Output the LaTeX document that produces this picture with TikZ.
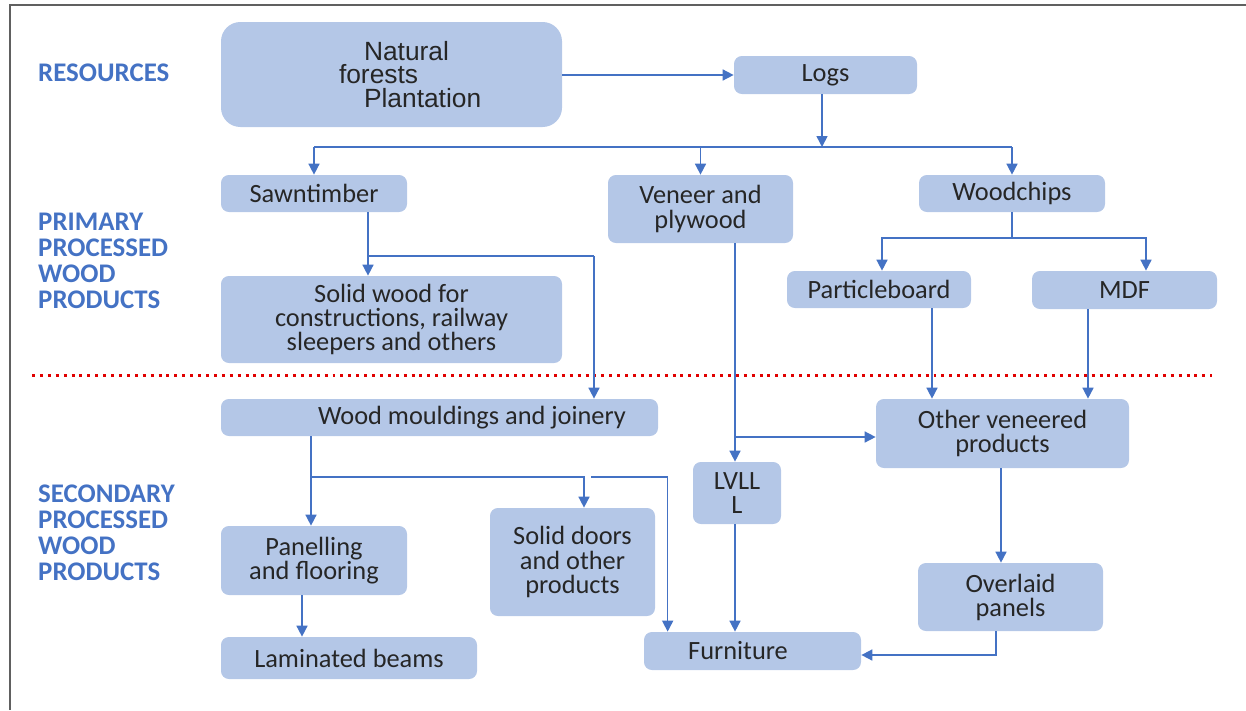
\documentclass[tikz,border=0pt]{standalone}
\usepackage{fontspec}
\setmainfont{Carlito}
\newfontfamily\arialfont{Liberation Sans}
\usepackage{tikz}
\usetikzlibrary{arrows.meta}

\definecolor{boxblue}{HTML}{B4C7E7}
\definecolor{linkblue}{HTML}{4472C4}
\definecolor{tierblue}{HTML}{4472C4}
\definecolor{tierred}{HTML}{E00000}

\begin{document}
\begin{tikzpicture}[
  box/.style={fill=boxblue, rectangle, rounded corners=4.5pt, inner sep=2pt,
    align=center, text=black!85, font=\fontsize{15}{13.7}\selectfont},
  tier/.style={anchor=west, align=left, text=tierblue,
    font=\fontsize{15.3}{14.7}\selectfont\bfseries},
  ar/.style={-{Triangle[length=0.22cm,width=0.22cm]}, draw=linkblue, line width=0.9pt},
  ln/.style={draw=linkblue, line width=0.9pt},
]
\useasboundingbox (0,0) rectangle (24.92,-14.2);

% frame
\draw[gray!75!black, line width=1.4pt] (0.2,-14.2) -- (0.2,-0.1) -- (24.92,-0.1);

%── Tier labels ───────────────────────────────────────────────────────────────

\node[tier] (tres)  at (0.64,-1.46)  {RESOURCES};
\node[tier] (tprim) at (0.64,-5.22)  {PRIMARY\\PROCESSED\\WOOD\\PRODUCTS};
\node[tier] (tsec)  at (0.64,-10.66) {SECONDARY\\PROCESSED\\WOOD\\PRODUCTS};

%── Resources ─────────────────────────────────────────────────────────────────

\node[box, rounded corners=11pt, minimum width=6.82cm, minimum height=2.1cm,
  text width=6.82cm, inner xsep=0pt, align=left, font=\arialfont\fontsize{15}{13.4}\selectfont]
  (nat) at (7.83,-1.49)
  {\hspace*{2.86cm}Natural\\\hspace*{2.36cm}forests\\\hspace*{2.86cm}Plantation};
\node[box, minimum width=3.66cm, minimum height=0.76cm] (logs) at (16.51,-1.5) {Logs};

\draw[ar] (logs.west -| nat.east) -- (logs.west);

%── Primary processed wood products ───────────────────────────────────────────

\node[box, minimum width=3.72cm, minimum height=0.74cm] (saw)   at (6.28,-3.87)  {Sawntimber};
\node[box, minimum width=3.70cm, minimum height=1.36cm] (ven)   at (14.01,-4.18) {Veneer and\\plywood};
\node[box, minimum width=3.72cm, minimum height=0.74cm] (chips) at (20.24,-3.87) {Woodchips};
\node[box, minimum width=6.82cm, minimum height=1.74cm] (solid) at (7.83,-6.39)
  {Solid wood for\\constructions, railway\\sleepers and others};
\node[box, minimum width=3.68cm, minimum height=0.74cm] (pboard) at (17.58,-5.79) {Particleboard};
\node[box, minimum width=3.70cm, minimum height=0.76cm] (mdf)    at (22.49,-5.80) {MDF};

% Logs -> three primary streams
\coordinate (logsplit) at (16.44,-2.94);
\draw[ar] (logs.south -| logsplit) -- (logsplit);
\draw[ln] (saw.north |- logsplit) -- (chips.north |- logsplit);
\draw[ar] (saw.north |- logsplit) -- (saw.north);
\draw[ar] (ven.north |- logsplit) -- (ven.north);
\draw[ar] (chips.north |- logsplit) -- (chips.north);

% Sawntimber -> solid wood, mouldings
\coordinate (sawfork) at (7.36,-5.12);
\draw[ar] (saw.south -| sawfork) -- (solid.north -| sawfork);
\draw[ln] (sawfork) -- (11.88,-5.12);

% Woodchips -> boards
\coordinate (chipfork) at (20.24,-4.76);
\draw[ln] (chips.south) -- (chipfork);
\draw[ar] (chipfork) -| ([xshift=0.06cm]pboard.north);
\draw[ar] (chipfork) -| ([xshift=0.43cm]mdf.north);

% tier boundary
\draw[tierred, line width=1.7pt, dash pattern=on 1.7pt off 2.8pt] (0.64,-7.5) -- (24.24,-7.5);

%── Secondary processed wood products ─────────────────────────────────────────

\node[box, minimum width=8.74cm, minimum height=0.74cm] (mould) at (8.79,-8.35)
  {\hspace*{1.3cm}Wood mouldings and joinery};
\node[box, minimum width=5.06cm, minimum height=1.38cm] (other) at (20.05,-8.67) {Other veneered\\products};
\node[box, minimum width=1.76cm, minimum height=1.24cm] (lvl)   at (14.74,-9.86) {LVLL\\L};
\node[box, minimum width=3.72cm, minimum height=1.38cm] (panel) at (6.28,-11.21) {Panelling\\and flooring};
\node[box, minimum width=3.30cm, minimum height=2.16cm] (doors) at (11.45,-11.24) {Solid doors\\and other\\products};
\node[box, minimum width=5.12cm, minimum height=0.84cm] (lam)   at (6.98,-13.16) {Laminated beams};
\node[box, minimum width=4.34cm, minimum height=0.76cm] (furn)  at (15.05,-13.02) {Furniture\hspace*{0.58cm}};
\node[box, minimum width=3.70cm, minimum height=1.36cm] (over)  at (20.21,-11.94) {Overlaid\\panels};

\draw[ar] (11.88,-5.12) -- (mould.north -| 11.88,0);
\draw[ar] ([xshift=1.06cm]pboard.south) -- ([xshift=1.06cm]pboard.south |- other.north);
\draw[ar] ([xshift=-0.73cm]mdf.south) -- ([xshift=-0.73cm]mdf.south |- other.north);

% Veneer -> LVL, other veneered
\coordinate (venfork) at (14.7,-8.74);
\draw[ar] (ven.south -| venfork) -- (lvl.north -| venfork);
\draw[ar] (venfork) -- (venfork -| other.west);

% Mouldings -> panelling, doors, furniture
\coordinate (mouldfork) at (6.22,-9.54);
\coordinate (furnfeed) at (11.82,-9.54);
\draw[ln] (mould.south -| mouldfork) -- (mouldfork);
\draw[ar] (mouldfork) -- (mouldfork |- panel.north);
\draw[ar] (mouldfork) -| ([xshift=0.23cm]doors.north);
\draw[ar] (furnfeed) -| ([xshift=0.48cm]furn.north west);

\draw[ar] ([xshift=-0.24cm]panel.south) -- ([xshift=-0.24cm]panel.south |- lam.north);
\draw[ar] (lvl.south -| venfork) -- (furn.north -| venfork);
\draw[ar] ([xshift=-0.03cm]other.south) -- ([xshift=-0.03cm]other.south |- over.north);
\draw[ar] ([xshift=-0.29cm]over.south) |- ([yshift=-0.08cm]furn.east);

\end{tikzpicture}
\end{document}
